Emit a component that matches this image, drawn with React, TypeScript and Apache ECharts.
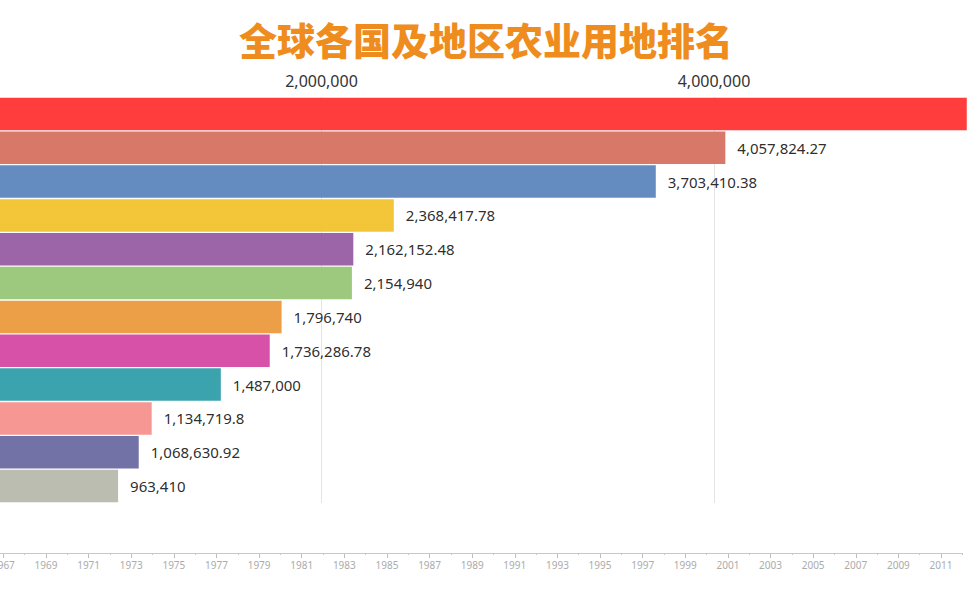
import React, { useEffect, useRef } from "react";
import * as echarts from "echarts";

const titleText = "全球各国及地区农业用地排名";
const countries = ["中国", "美国", "澳大利亚", "巴西", "哈萨克斯坦", "俄罗斯", "印度", "沙特阿拉伯", "阿根廷", "蒙古", "墨西哥", "南非"];
const landValues = [5288000, 4057824.27, 3703410.38, 2368417.78, 2162152.48, 2154940, 1796740, 1736286.78, 1487000, 1134719.8, 1068630.92, 963410];
const barColors = ["#FF3535", "#D57263", "#5F87BE", "#F2C431", "#975FA3", "#99C77A", "#EB9B40", "#D64AA4", "#329FAA", "#F7938F", "#6D6CA3", "#B8BAAD"];
const years: string[] = [];
for (let y = 1966; y <= 2012; y++) years.push(String(y));

const fmt = (v: number) => v.toLocaleString("en-US", { maximumFractionDigits: 2 });

export default function App() {
  const ref = useRef<HTMLDivElement>(null);
  useEffect(() => {
    document.body.style.margin = "0";
    if (!ref.current) return;
    const chart = echarts.init(ref.current, null, { renderer: "svg" });
    const isOdd = (i: number, v: string) => Number(v) % 2 === 1;
    // timeline: 1969 at x=46, 2011 at x=941
    const perYear = (941 - 46) / 42;
    const tlLeft = 46 - (1969 - Number(years[0])) * perYear;
    const tlWidth = (years.length - 1) * perYear;
    chart.setOption({
      animation: false,
      backgroundColor: "#ffffff",
      title: {
        text: titleText,
        left: "center",
        top: 14,
        textStyle: {
          fontFamily: "Noto Sans CJK SC",
          fontSize: 38,
          fontWeight: 900,
          color: "#EF8C1E",
        },
      },
      grid: [
        { left: -71, top: 97, width: 1177.5, height: 406, outerBoundsMode: "none", containLabel: false },
        { left: tlLeft, top: 500, width: tlWidth, height: 53, outerBoundsMode: "none", containLabel: false },
        { left: tlLeft, top: 500, width: tlWidth, height: 53, outerBoundsMode: "none", containLabel: false },
      ],
      xAxis: [
        {
          type: "value",
          gridIndex: 0,
          position: "top",
          min: 0,
          max: 6000000,
          interval: 2000000,
          axisLine: { show: false },
          axisTick: { show: false },
          axisLabel: {
            margin: 8,
            fontSize: 16,
            color: "#333",
            fontFamily: "Noto Sans",
            showMinLabel: false,
            showMaxLabel: false,
            formatter: (v: number) => fmt(v),
          },
          splitLine: { show: true, lineStyle: { color: "#E4E4E4", width: 1 } },
        },
        {
          type: "category",
          gridIndex: 1,
          position: "bottom",
          data: years,
          boundaryGap: false,
          axisLine: { show: true, lineStyle: { color: "#C8C8C8", width: 1 } },
          axisTick: { show: true, interval: isOdd, length: 5, lineStyle: { color: "#BBBBBB" } },
          axisLabel: {
            interval: isOdd,
            margin: 7,
            fontSize: 10,
            color: "#ABABAB",
            fontFamily: "Noto Sans",
          },
          splitLine: { show: false },
        },
        {
          type: "category",
          gridIndex: 2,
          position: "bottom",
          data: years,
          boundaryGap: false,
          axisLine: { show: false },
          axisTick: { show: true, interval: 0, length: 2, lineStyle: { color: "#C8C8C8" } },
          axisLabel: { show: false },
          splitLine: { show: false },
        },
      ],
      yAxis: [
        {
          type: "category",
          gridIndex: 0,
          data: countries,
          inverse: true,
          axisLine: { show: false },
          axisTick: { show: false },
          axisLabel: { show: false },
        },
        { type: "value", gridIndex: 1, show: false },
        { type: "value", gridIndex: 2, show: false },
      ],
      series: [
        {
          type: "bar",
          xAxisIndex: 0,
          yAxisIndex: 0,
          barCategoryGap: "4%",
          data: landValues.map((v, i) => ({
            value: v,
            itemStyle: { color: barColors[i], opacity: 0.96 },
            label: { show: i !== 0 },
          })),
          label: {
            show: true,
            position: "right",
            distance: 12,
            fontSize: 15,
            color: "#222",
            fontFamily: "Noto Sans",
            formatter: (p: any) => fmt(p.value),
          },
        },
      ],
    });
    return () => chart.dispose();
  }, []);
  return <div ref={ref} style={{ width: 972, height: 608 }} />;
}
